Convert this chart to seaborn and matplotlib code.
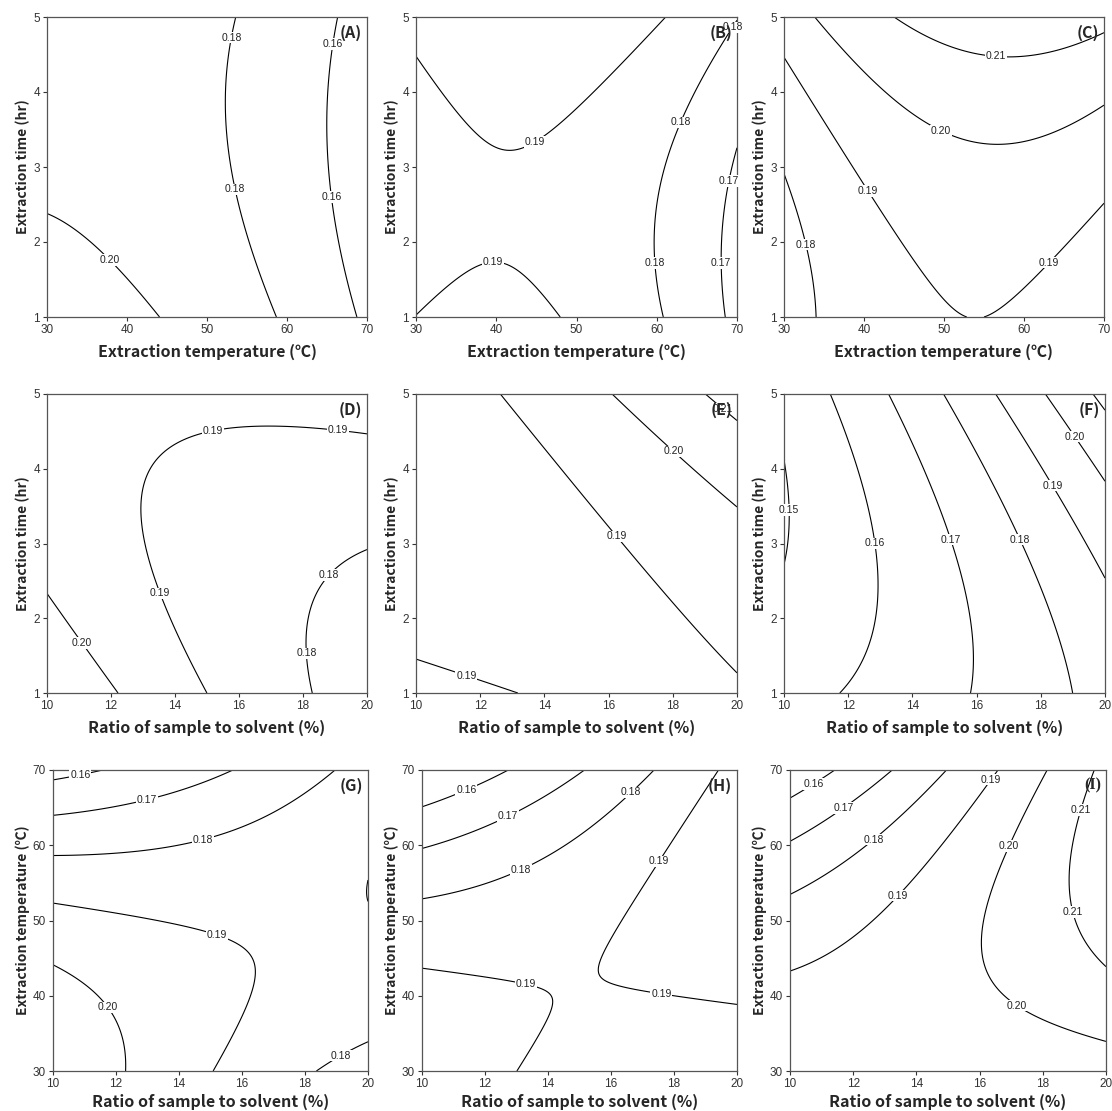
import numpy as np
import matplotlib
matplotlib.use("Agg")
import matplotlib.pyplot as plt
import seaborn as sns

# Second-order response-surface coefficients in coded units (-1..1):
# [b0, b_x, b_y, b_xx, b_yy, b_xy]
coef_A = [0.18376, -0.02370, -0.00450, -0.01004, 0.00491, 0.00230]
coef_B = [0.18778, -0.00864, 0.00376, -0.01003, 0.00495, 0.00253]
coef_C = [0.19694, 0.00640, 0.01205, -0.01012, 0.00475, 0.00243]
coef_D = [0.18641, -0.00835, 0.00123, 0.00232, 0.00481, 0.00836]
coef_E = [0.18792, 0.00661, 0.00375, 0.00223, 0.00491, 0.00831]
coef_F = [0.16898, 0.02174, 0.00621, 0.00237, 0.00499, 0.00830]
coef_G = [0.18915, -0.00175, -0.01111, 0.00226, -0.00998, 0.01506]
coef_H = [0.18808, 0.00660, -0.00851, 0.00211, -0.01025, 0.01497]
coef_I = [0.19654, 0.01485, -0.00617, 0.00230, -0.01008, 0.01511]

# Contour levels drawn in each panel
levels_A = [0.16, 0.18, 0.20]
levels_B = [0.17, 0.18, 0.19]
levels_C = [0.18, 0.19, 0.20, 0.21]
levels_D = [0.18, 0.19, 0.20]
levels_E = [0.19, 0.20, 0.21]
levels_F = [0.15, 0.16, 0.17, 0.18, 0.19, 0.20, 0.21]
levels_G = [0.16, 0.17, 0.18, 0.19, 0.20]
levels_H = [0.16, 0.17, 0.18, 0.19]
levels_I = [0.16, 0.17, 0.18, 0.19, 0.20, 0.21]

# Factor ranges and ticks
temp_range = (30, 70)
time_range = (1, 5)
ratio_range = (10, 20)
temp_ticks = [30, 40, 50, 60, 70]
time_ticks = [1, 2, 3, 4, 5]
ratio_ticks = [10, 12, 14, 16, 18, 20]

temp_label = "Extraction temperature (\u2103)"
time_label = "Extraction time (hr)"
ratio_label = "Ratio of sample to solvent (%)"

# Where the contour labels sit along each line
lab_A = [(37.8, 1.76), (53.3, 4.72), (53.5, 2.7), (65.7, 4.64), (65.4, 2.6)]
lab_B = [(45.0, 3.31), (39.6, 1.76), (62.9, 3.6), (59.8, 1.72), (69.6, 4.85),
         (68.1, 1.72), (69.5, 2.80)]
lab_C = [(56.5, 4.48), (49.7, 3.5), (40.5, 2.68), (63.0, 1.74), (32.6, 1.96)]
lab_D = [(11.1, 1.67), (13.57, 2.34), (15.19, 4.5), (19.1, 4.52), (18.8, 2.58),
         (18.1, 1.53)]
lab_E = [(11.58, 1.245), (16.26, 3.1), (18.02, 4.23), (19.55, 4.8)]
lab_F = [(10.12, 3.45), (12.78, 3.0), (15.17, 3.05), (17.35, 3.05), (18.39, 3.78),
         (19.06, 4.43)]
lab_G = [(10.87, 69.3), (12.98, 66.0), (14.77, 60.6), (15.2, 48.0), (11.7, 38.3),
         (19.1, 32.3)]
lab_H = [(11.41, 67.3), (12.73, 63.9), (13.15, 56.7), (16.65, 67.0), (17.55, 57.8),
         (17.6, 40.3), (13.28, 41.2)]
lab_I = [(10.74, 68.2), (11.69, 65.0), (12.64, 60.8), (13.43, 53.3), (16.34, 68.8),
         (16.92, 59.9), (17.18, 38.7), (19.19, 64.7), (18.92, 51.1)]

panels = [
    ("A", coef_A, levels_A, temp_range, time_range, temp_ticks, time_ticks, temp_label, time_label, lab_A),
    ("B", coef_B, levels_B, temp_range, time_range, temp_ticks, time_ticks, temp_label, time_label, lab_B),
    ("C", coef_C, levels_C, temp_range, time_range, temp_ticks, time_ticks, temp_label, time_label, lab_C),
    ("D", coef_D, levels_D, ratio_range, time_range, ratio_ticks, time_ticks, ratio_label, time_label, lab_D),
    ("E", coef_E, levels_E, ratio_range, time_range, ratio_ticks, time_ticks, ratio_label, time_label, lab_E),
    ("F", coef_F, levels_F, ratio_range, time_range, ratio_ticks, time_ticks, ratio_label, time_label, lab_F),
    ("G", coef_G, levels_G, ratio_range, temp_range, ratio_ticks, temp_ticks, ratio_label, temp_label, lab_G),
    ("H", coef_H, levels_H, ratio_range, temp_range, ratio_ticks, temp_ticks, ratio_label, temp_label, lab_H),
    ("I", coef_I, levels_I, ratio_range, temp_range, ratio_ticks, temp_ticks, ratio_label, temp_label, lab_I),
]

# Axes boxes in pixels: (left, top, right, bottom)
boxes = [
    (47, 17, 367, 317), (416, 17, 737, 317), (784, 17, 1104, 317),
    (47, 394, 367, 693), (416, 394, 737, 693), (784, 394, 1105, 693),
    (53, 770, 368, 1071), (422, 770, 737, 1071), (790, 770, 1106, 1071),
]

sns.set_style("ticks")
plt.rcParams["font.family"] = ["Liberation Sans", "DejaVu Sans"]
label_font = ["Noto Sans CJK KR", "DejaVu Sans"]

W, H = 1112, 1111
fig = plt.figure(figsize=(W / 100, H / 100), dpi=100)


def coded(v, r):
    return (v - (r[0] + r[1]) / 2) / ((r[1] - r[0]) / 2)


def surface(c, U, V):
    return c[0] + c[1] * U + c[2] * V + c[3] * U * U + c[4] * V * V + c[5] * U * V


for i, ((name, coef, lv, xr, yr, xt, yt, xl, yl, labs), (l, t, r, b)) in enumerate(zip(panels, boxes)):
    ax = fig.add_axes([l / W, 1 - b / H, (r - l) / W, (b - t) / H])
    gx = np.linspace(xr[0], xr[1], 300)
    gy = np.linspace(yr[0], yr[1], 300)
    X, Y = np.meshgrid(gx, gy)
    Z = surface(coef, coded(X, xr), coded(Y, yr))
    cs = ax.contour(X, Y, Z, levels=lv, colors="black", linewidths=0.8)
    texts = ax.clabel(cs, fmt="%.2f", fontsize=7.5, inline=False, manual=labs)
    for tx in texts:
        tx.set_rotation(0)
        tx.set_color("#222222")
        tx.set_bbox(dict(facecolor="white", edgecolor="none", pad=0.5))
        tx.set_clip_on(False)

    ax.set_xlim(*xr)
    ax.set_ylim(*yr)
    ax.set_xticks(xt)
    ax.set_yticks(yt)
    ax.tick_params(direction="out", length=3, width=0.8, labelsize=8.5,
                   colors="#333333", pad=2)
    for sp in ax.spines.values():
        sp.set_visible(True)
        sp.set_linewidth(0.9)
        sp.set_color("#555555")
    bottom_row = i >= 6
    ax.set_xlabel(xl, fontsize=11.5, fontweight="bold", family=label_font,
                  labelpad=2.5 if bottom_row else 6)
    ax.set_ylabel(yl, fontsize=10, fontweight="bold", family=label_font, labelpad=2)

    tag_family = ["Liberation Serif"] if name == "I" else label_font
    ax.text(0.985, 0.975, "(%s)" % name, transform=ax.transAxes, ha="right", va="top",
            fontsize=11.5, fontweight="bold", family=tag_family, zorder=5)

fig.savefig("out.png", dpi=100)
